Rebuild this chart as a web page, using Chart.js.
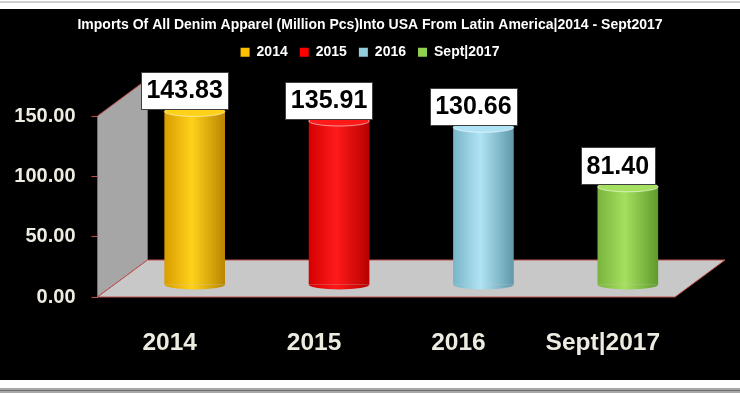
<!DOCTYPE html>
<html>
<head>
<meta charset="utf-8">
<style>
  html, body { margin: 0; padding: 0; background: #fff; }
  canvas { display: block; }
</style>
<script src="https://cdn.jsdelivr.net/npm/chart.js@4/dist/chart.umd.min.js"></script>
</head>
<body>
<canvas id="denimChart" width="740" height="393"></canvas>
<script>
const categories = ['2014', '2015', '2016', 'Sept|2017'];
const imports = [143.83, 135.91, 130.66, 81.40];
const yTicks = [0, 50, 100, 150];

// colours per bar: [edge dark, centre light, edge darker, legend]
const barColors = [
    ['#d99c00', '#ffd21a', '#b98600', '#FFC000'],
    ['#d40000', '#ff1a1a', '#b80000', '#FF0000'],
    ['#78b4c8', '#b0e4f4', '#5e98ab', '#92CDDC'],
    ['#78b43c', '#a6e060', '#5f9a2c', '#92D050']
];

const FONT = "'Liberation Sans', Arial, sans-serif";
const AXIS_RED = '#c0504d';
const DEPTH_X = 50, DEPTH_Y = -37;   // back plane offset
const BAR_DX = 25, BAR_DY = -12;     // bars stand mid-depth
const BAR_PCT = 0.42;

function barGradient(context) {
    const chart = context.chart;
    const i = context.dataIndex;
    const c = barColors[i];
    const x = chart.scales.x;
    if (!chart.chartArea || !x) return c[3];
    const cx = x.getPixelForValue(i);
    const half = (x.width / categories.length) * BAR_PCT / 2;
    const g = chart.ctx.createLinearGradient(cx - half, 0, cx + half, 0);
    g.addColorStop(0, c[0]);
    g.addColorStop(0.45, c[1]);
    g.addColorStop(1, c[2]);
    return g;
}

const framePlugin = {
    id: 'frame',
    beforeDraw(chart) {
        const ctx = chart.ctx;
        ctx.save();
        ctx.fillStyle = '#ffffff';
        ctx.fillRect(0, 0, chart.width, chart.height);
        ctx.fillStyle = '#cfcfcf';
        ctx.fillRect(0, 1, chart.width, 2);
        ctx.fillStyle = '#000000';
        ctx.fillRect(0, 9, chart.width, 371);
        ctx.fillStyle = '#a8a8a8';
        ctx.fillRect(0, 388, chart.width, 5);
        ctx.fillStyle = '#6e6e6e';
        ctx.fillRect(0, 390, chart.width, 1);
        ctx.restore();
    }
};

const cylinderPlugin = {
    id: 'cylinder',
    beforeDatasetsDraw(chart) {
        const ctx = chart.ctx;
        const x = chart.scales.x, y = chart.scales.y;
        const l = x.left, r = x.right;
        const y0 = y.getPixelForValue(0), yTop = y.getPixelForValue(yTicks[yTicks.length - 1]);
        ctx.save();
        ctx.lineWidth = 1;
        ctx.strokeStyle = AXIS_RED;
        // back wall
        ctx.beginPath();
        ctx.moveTo(l, y0);
        ctx.lineTo(l, yTop);
        ctx.lineTo(l + DEPTH_X, yTop + DEPTH_Y);
        ctx.lineTo(l + DEPTH_X, y0 + DEPTH_Y);
        ctx.closePath();
        ctx.fillStyle = '#a6a6a6';
        ctx.fill();
        ctx.stroke();
        // floor
        ctx.beginPath();
        ctx.moveTo(l, y0);
        ctx.lineTo(r, y0);
        ctx.lineTo(r + DEPTH_X, y0 + DEPTH_Y);
        ctx.lineTo(l + DEPTH_X, y0 + DEPTH_Y);
        ctx.closePath();
        ctx.fillStyle = '#c8c8c8';
        ctx.fill();
        ctx.stroke();
        ctx.restore();

        ctx.save();
        ctx.translate(BAR_DX, BAR_DY);
    },
    afterDatasetsDraw(chart) {
        const ctx = chart.ctx;
        const meta = chart.getDatasetMeta(0);
        meta.data.forEach((bar, i) => {
            const rx = bar.width / 2, ry = 5;
            const c = barColors[i];
            const g = ctx.createLinearGradient(bar.x - rx, 0, bar.x + rx, 0);
            g.addColorStop(0, c[0]);
            g.addColorStop(0.45, c[1]);
            g.addColorStop(1, c[2]);
            // bottom rounding
            ctx.beginPath();
            ctx.ellipse(bar.x, bar.base, rx, ry, 0, 0, Math.PI);
            ctx.closePath();
            ctx.fillStyle = g;
            ctx.fill();
            // top cap
            ctx.beginPath();
            ctx.ellipse(bar.x, bar.y, rx, ry, 0, 0, Math.PI * 2);
            ctx.fillStyle = c[1];
            ctx.fill();
            ctx.lineWidth = 1;
            ctx.strokeStyle = 'rgba(255,255,255,0.55)';
            ctx.stroke();
        });
        ctx.restore();

        // value boxes
        ctx.save();
        ctx.font = 'bold 25px ' + FONT;
        ctx.textAlign = 'center';
        ctx.textBaseline = 'middle';
        meta.data.forEach((bar, i) => {
            const txt = imports[i].toFixed(2);
            const w = ctx.measureText(txt).width + 11;
            const h = 37;
            const cx = bar.x + 15;
            const bottom = bar.y - 14.5;
            ctx.fillStyle = '#ffffff';
            ctx.fillRect(Math.round(cx - w / 2) + 0.5, Math.round(bottom - h) + 0.5, Math.round(w), h);
            ctx.strokeStyle = '#404040';
            ctx.lineWidth = 1;
            ctx.strokeRect(Math.round(cx - w / 2) + 0.5, Math.round(bottom - h) + 0.5, Math.round(w), h);
            ctx.fillStyle = '#000000';
            ctx.fillText(txt, cx, bottom - h / 2 + 1);
        });
        ctx.restore();
    }
};

new Chart(document.getElementById('denimChart'), {
    type: 'bar',
    data: {
        labels: categories,
        datasets: [{
            label: 'Imports',
            data: imports,
            backgroundColor: barGradient,
            borderWidth: 0,
            categoryPercentage: 1,
            barPercentage: BAR_PCT,
            clip: false
        }]
    },
    options: {
        responsive: false,
        devicePixelRatio: 1,
        animation: false,
        layout: { padding: 0 },
        plugins: {
            title: {
                display: true,
                text: 'Imports Of All Denim Apparel (Million Pcs)Into USA From Latin America|2014 - Sept2017',
                color: '#ffffff',
                font: { family: FONT, size: 14, weight: 'bold', lineHeight: 1.2 },
                padding: { top: 16.5, bottom: 0 }
            },
            legend: {
                display: true,
                labels: {
                    color: '#ffffff',
                    font: { family: FONT, size: 14, weight: 'bold' },
                    boxWidth: 9,
                    boxHeight: 9,
                    padding: 12,
                    generateLabels: () => categories.map((cat, i) => ({
                        text: cat,
                        fillStyle: barColors[i][3],
                        strokeStyle: barColors[i][3],
                        lineWidth: 0,
                        fontColor: '#ffffff',
                        index: i
                    }))
                },
                onClick: () => {}
            },
            subtitle: {
                display: true,
                text: '',
                position: 'top',
                weight: 500,
                font: { size: 10, lineHeight: 1.2 },
                padding: { top: 0, bottom: 34.7 }
            },
            tooltip: { enabled: false }
        },
        scales: {
            x: {
                grid: { display: false, drawTicks: false },
                border: { display: false },
                ticks: {
                    color: '#eeece1',
                    font: { family: FONT, size: 24.5, weight: 'bold' },
                    padding: 32
                },
                afterFit(scale) { scale.height = 96; }
            },
            y: {
                min: yTicks[0],
                max: yTicks[yTicks.length - 1],
                afterBuildTicks(scale) { scale.ticks = yTicks.map(v => ({ value: v })); },
                grid: { drawOnChartArea: false, drawTicks: true, tickLength: 6, color: AXIS_RED },
                border: { display: true, color: AXIS_RED },
                ticks: {
                    color: '#eeece1',
                    font: { family: FONT, size: 20, weight: 'bold' },
                    padding: 16,
                    callback: v => Number(v).toFixed(2)
                },
                afterFit(scale) { scale.width = 97.5; }
            },
            // empty right-hand margin so the floor can run out in depth
            yRight: {
                position: 'right',
                display: true,
                grid: { display: false, drawTicks: false },
                border: { display: false },
                ticks: { display: false },
                afterFit(scale) { scale.width = 65; }
            }
        }
    },
    plugins: [framePlugin, cylinderPlugin]
});
</script>
</body>
</html>
